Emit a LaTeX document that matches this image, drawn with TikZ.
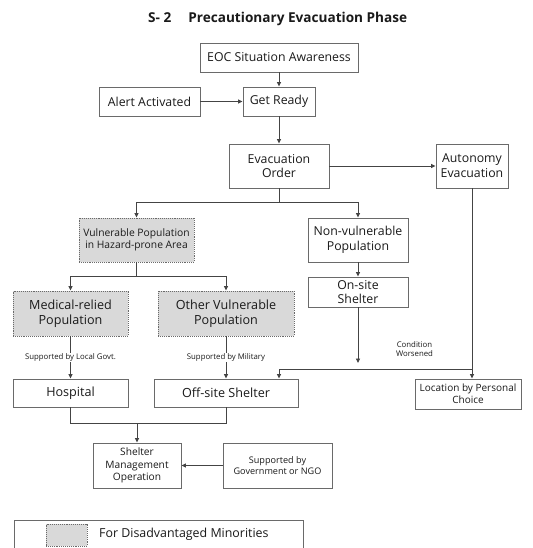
\documentclass[tikz,border=0pt]{standalone}
\usepackage{fontspec}
\setmainfont{Open Sans}
\usetikzlibrary{arrows.meta,calc}
\definecolor{boxline}{HTML}{6A6A6A}
\definecolor{conn}{HTML}{444444}
\definecolor{txt}{HTML}{1A1A1A}
\definecolor{minor}{HTML}{D9D9D9}
\begin{document}
\begin{tikzpicture}[x=1pt,y=-1pt,
  box/.style={draw=boxline,line width=0.9pt,fill=white,inner sep=0pt,align=center,text=txt,
    font=\fontsize{12.3}{14.7}\selectfont},
  gbox/.style={box,fill=minor,densely dotted,draw=boxline},
  arr/.style={draw=conn,line width=0.9pt,-{Triangle[length=4.5pt,width=4pt]}},
  ln/.style={draw=conn,line width=0.9pt},
  lbl/.style={fill=white,inner sep=1pt,text=txt,font=\fontsize{7.8}{9}\selectfont,align=center}]
\useasboundingbox (0,0) rectangle (532,548);
\fill[white] (0,0) rectangle (532,548);
% title
\node[anchor=west,text=txt,font=\fontsize{13.6}{15}\selectfont\bfseries,inner sep=0pt] (title) at (148,19) {S- 2\hspace{17pt}Precautionary Evacuation Phase};
% boxes
\node[box,minimum width=158pt,minimum height=29pt] (eoc) at (279,57.5) {EOC Situation Awareness};
\node[box,minimum width=101pt,minimum height=29pt] (alert) at (149.5,101.5) {Alert Activated};
\node[box,minimum width=72pt,minimum height=29pt] (ready) at (279,101.5) {Get Ready};
\node[box,minimum width=100pt,minimum height=44pt] (order) at (279,166) {Evacuation\\Order};
\node[box,minimum width=72pt,minimum height=44pt] (auto) at (472,166) {Autonomy\\Evacuation};
\node[gbox,minimum width=115pt,minimum height=44pt,font=\fontsize{10.3}{11.8}\selectfont] (vuln) at (136.5,240) {Vulnerable Population\\in Hazard-prone Area};
\node[box,minimum width=100pt,minimum height=44pt] (nonv) at (358,240) {Non-vulnerable\\Population};
\node[box,minimum width=100pt,minimum height=30pt,font=\fontsize{12.3}{13.5}\selectfont] (onsite) at (358,292) {On-site\\Shelter};
\node[gbox,minimum width=115pt,minimum height=45pt,font=\fontsize{12.6}{15}\selectfont] (med) at (70.5,313.5) {Medical-relied\\Population};
\node[gbox,minimum width=136pt,minimum height=45pt,font=\fontsize{12.6}{15}\selectfont] (other) at (226,313.5) {Other Vulnerable\\Population};
\node[box,minimum width=115pt,minimum height=28pt,font=\fontsize{12.6}{15}\selectfont] (hosp) at (70.5,393) {Hospital};
\node[box,minimum width=144pt,minimum height=28pt,font=\fontsize{12.6}{15}\selectfont] (offs) at (226,393) {Off-site Shelter};
\node[box,minimum width=106pt,minimum height=30pt,font=\fontsize{10}{12}\selectfont] (loc) at (468,394) {Location by Personal\\Choice};
\node[box,minimum width=88pt,minimum height=45pt,font=\fontsize{10.2}{12.5}\selectfont] (smo) at (137,465.5) {Shelter\\Management\\Operation};
\node[box,minimum width=109pt,minimum height=45pt,font=\fontsize{9.1}{11}\selectfont] (ngo) at (277.5,465.5) {Supported by\\Government or NGO};
% legend
\draw[draw=boxline,line width=0.9pt] (14,520) rectangle (303,556);
\node[gbox,minimum width=41pt,minimum height=22pt] (sw) at (66.5,535) {};
\node[anchor=west,inner sep=0pt,text=txt,font=\fontsize{12.4}{15}\selectfont] (legtxt) at (99,534) {For Disadvantaged Minorities};
% connectors
\draw[arr] (eoc.south) -- (ready.north);
\draw[arr] (alert.east) -- (ready.west);
\draw[arr] (ready.south) -- (order.north);
\draw[arr] (order.east) -- (auto.west);
\coordinate (b1) at (279,202);
\draw[ln] (order.south) -- (b1);
\draw[arr] (b1) -| (vuln.north);
\draw[arr] (b1) -| (nonv.north);
\draw[arr] (nonv.south) -- (onsite.north);
\coordinate (b2) at (136.5,276);
\draw[ln] (vuln.south) -- (b2);
\draw[arr] (b2) -| (med.north);
\draw[arr] (b2) -| (other.north);
\draw[arr] (med.south) -- node[lbl] (l1) {Supported by Local Govt.} (hosp.north);
\draw[arr] (other.south) -- node[lbl] (l2) {Supported by Military} (offs.north);
\coordinate (os) at (358,363);
\draw[arr] (onsite.south) -- (os);
\node[lbl,fill=none] (cw) at (414.5,349) {Condition\\Worsened};
\draw[arr] (auto.south) -- (auto.south |- loc.north);
\coordinate (j1) at (472,369);
\coordinate (j2) at (279,369);
\draw[arr] (j1) -- (j2) -- (j2 |- offs.north);
\coordinate (b3) at (70.5,423);
\coordinate (b4) at (226,423);
\coordinate (b5) at (137,423);
\draw[ln] (hosp.south) -- (b3) -- (b4) -- (offs.south);
\draw[arr] (b5) -- (smo.north);
\draw[arr] (ngo.west) -- (smo.east);
\end{tikzpicture}
\end{document}
